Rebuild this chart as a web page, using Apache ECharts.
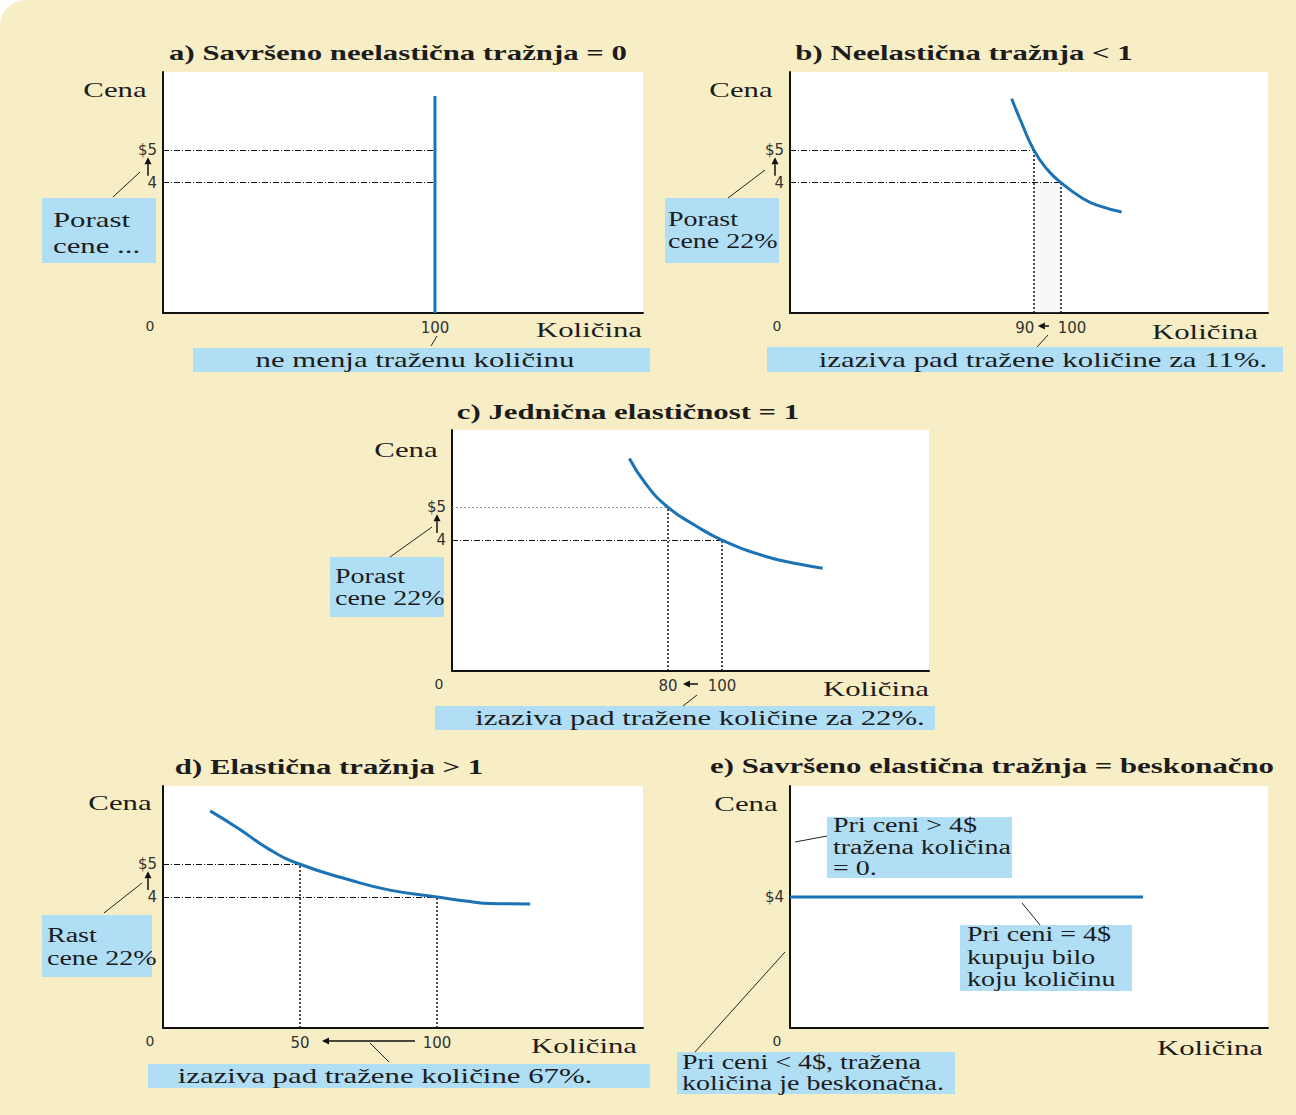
<!DOCTYPE html>
<html>
<head>
<meta charset="utf-8">
<script src="https://cdn.jsdelivr.net/npm/echarts@6/dist/echarts.min.js"></script>
<style>
html,body{margin:0;padding:0;background:#fff;}
#c{width:1296px;height:1115px;background:#f8eec5;border-top-left-radius:26px;}
</style>
</head>
<body>
<div id="c"></div>
<script>
// ---------- data ----------
const panelTitles = [
  'a) Savršeno neelastična tražnja = 0',
  'b) Neelastična tražnja < 1',
  'c) Jednična elastičnost = 1',
  'd) Elastična tražnja > 1',
  'e) Savršeno elastična tražnja = beskonačno'
];
const yAxisName = 'Cena';
const xAxisName = 'Količina';

// demand lines (quantity, price)
const demandA = [[100, 0], [100, 6.66]];
const demandB = [[81.8, 6.58], [84.9, 5.95], [90, 5], [94.7, 4.43], [100, 4], [108.2, 3.51], [114.4, 3.28], [122.4, 3.10]];
const demandC = [[65.7, 6.49], [72.1, 5.68], [80, 5], [90, 4.45], [100, 4], [116.6, 3.49], [128.9, 3.26], [137.3, 3.14]];
const demandD = [[17.2, 6.63], [27.4, 6.10], [39.1, 5.44], [50, 5], [68.2, 4.52], [82.8, 4.21], [100, 4], [112, 3.86], [119.3, 3.80], [134, 3.79]];
const demandE = [[0, 4], [130, 4]];

// price change 4 -> 5, quantity at each price per panel
const priceLow = 4, priceHigh = 5;
const qtyHighPrice = [100, 90, 80, 50];
const qtyLowPrice  = [100, 100, 100, 100];

// tick labels
const xTickLabels = [
  [[100, '100']],
  [[90, '{l|90}'], [100, '{r|100}']],
  [[80, '80'], [100, '100']],
  [[50, '50'], [100, '100']],
  []
];
const yTickLabels = [
  [[5, '$5'], [4, '4']],
  [[5, '$5'], [4, '4']],
  [[5, '$5'], [4, '4']],
  [[5, '$5'], [4, '4']],
  [[4, '$4']]
];

// annotation texts
const leftBoxTexts = ['Porast\ncene ...', 'Porast\ncene 22%', 'Porast\ncene 22%', 'Rast\ncene 22%'];
const bottomBoxTexts = [
  'ne menja traženu količinu',
  'izaziva pad tražene količine za 11%.',
  'izaziva pad tražene količine za 22%.',
  'izaziva pad tražene količine 67%.'
];
const eBoxTexts = [
  'Pri ceni > 4$\ntražena količina\n= 0.',
  'Pri ceni = 4$\nkupuju bilo\nkoju količinu',
  'Pri ceni < 4$, tražena\nkoličina je beskonačna.'
];

// ---------- layout ----------
const grids = [
  {left: 163, top: 72, width: 480, height: 241},
  {left: 790, top: 72, width: 478, height: 241},
  {left: 452, top: 430, width: 477, height: 241},
  {left: 163, top: 786, width: 480, height: 242},
  {left: 790, top: 786, width: 478, height: 242}
];
const xMax = [176.5, 176.4, 176.7, 175.2, 176];
const yMax = [7.4, 7.4, 7.36, 7.39, 7.39];

const BLUE = '#1b72b5';
const BOX = '#b0def5';
const INK = '#1c1c1c';
const tickFont = {fontFamily: 'DejaVu Sans', fontSize: 15, color: '#333'};

function near(a, b) { return Math.abs(a - b) < 1e-6; }
function makeFormatter(list) {
  return function (v) {
    for (const [val, txt] of list) if (near(v, val)) return txt;
    return '';
  };
}

const xAxes = grids.map((g, i) => ({
  type: 'value', gridIndex: i, min: 0, max: xMax[i], interval: 10,
  axisLine: {show: true, onZero: false, lineStyle: {color: '#111', width: 2}},
  axisTick: {show: false}, splitLine: {show: false},
  axisLabel: Object.assign({
    margin: 7, showMinLabel: true, showMaxLabel: true, hideOverlap: false,
    formatter: makeFormatter(xTickLabels[i]),
    rich: {
      l: Object.assign({padding: [0, 18, 0, 0]}, tickFont),
      r: Object.assign({padding: [0, 0, 0, 22]}, tickFont)
    }
  }, tickFont)
}));
const yAxes = grids.map((g, i) => ({
  type: 'value', gridIndex: i, min: 0, max: yMax[i], interval: 1,
  axisLine: {show: true, onZero: false, lineStyle: {color: '#111', width: 2}},
  axisTick: {show: false}, splitLine: {show: false},
  axisLabel: Object.assign({
    margin: 6, showMinLabel: true, showMaxLabel: true, hideOverlap: false,
    formatter: makeFormatter(yTickLabels[i])
  }, tickFont)
}));

const dashDot = {type: [6, 2, 1, 2], color: '#111', width: 1};
const dotted = {type: [2, 2], color: '#111', width: 1.5};
const lightDot = {type: [2, 2], color: '#999', width: 1};

function refLines(i) {
  const qh = qtyHighPrice[i], ql = qtyLowPrice[i];
  const data = [
    [{coord: [0, priceHigh], lineStyle: i === 2 ? lightDot : dashDot}, {coord: [qh, priceHigh]}],
    [{coord: [0, priceLow], lineStyle: dashDot}, {coord: [ql, priceLow]}]
  ];
  if (i > 0) {
    data.push([{coord: [qh, 0], lineStyle: dotted}, {coord: [qh, priceHigh]}]);
    data.push([{coord: [ql, 0], lineStyle: dotted}, {coord: [ql, priceLow]}]);
  }
  return {symbol: ['none', 'none'], silent: true, label: {show: false}, animation: false, data: data};
}

const demand = [demandA, demandB, demandC, demandD, demandE];
const series = demand.map((d, i) => {
  const s = {
    type: 'line', xAxisIndex: i, yAxisIndex: i, data: d, symbol: 'none',
    smooth: i >= 1 && i <= 3 ? true : false,
    lineStyle: {color: BLUE, width: 3}, z: 5, silent: true
  };
  if (i < 4) s.markLine = refLines(i);
  if (i === 1) {
    s.markArea = {silent: true, itemStyle: {color: 'rgba(200,200,200,0.15)'},
      data: [[{coord: [qtyHighPrice[1], 0]}, {coord: [qtyLowPrice[1], priceLow]}]]};
  }
  return s;
});

const chart = echarts.init(document.getElementById('c'), null, {renderer: 'svg'});
chart.setOption({
  animation: false,
  backgroundColor: 'transparent',
  grid: grids.map(g => Object.assign({show: true, backgroundColor: '#fff', borderWidth: 0,
    containLabel: false, outerBoundsMode: 'none'}, g)),
  xAxis: xAxes,
  yAxis: yAxes,
  series: series
});

// ---------- annotations ----------
function px(i, x, y) { return chart.convertToPixel({gridIndex: i}, [x, y]); }

function T(text, x, y, o) {
  o = o || {};
  const align = o.align || 'center';
  return {
    type: 'text', x: x, y: y, scaleX: o.sx || 1.4, z: 102,
    style: {
      text: text, x: 0, y: 0, fill: o.fill || INK,
      fontFamily: o.family || 'Liberation Serif', fontSize: o.size || 22,
      fontWeight: o.bold ? 'bold' : 'normal',
      textAlign: align, align: align, textVerticalAlign: 'middle', verticalAlign: 'middle',
      lineHeight: o.lh || 24
    }
  };
}
function R(x, y, w, h) {
  return {type: 'rect', z: 100, shape: {x: x, y: y, width: w, height: h}, style: {fill: BOX}};
}
function L(x1, y1, x2, y2) {
  return {type: 'line', z: 101, shape: {x1: x1, y1: y1, x2: x2, y2: y2}, style: {stroke: '#222', lineWidth: 1}};
}
function A(x1, y1, x2, y2) {
  const dx = x2 - x1, dy = y2 - y1, len = Math.hypot(dx, dy);
  const ux = dx / len, uy = dy / len, hl = 7, hw = 3.5;
  const bx = x2 - ux * hl, by = y2 - uy * hl, qx = -uy, qy = ux;
  return [
    {type: 'line', z: 101, shape: {x1: x1, y1: y1, x2: bx, y2: by}, style: {stroke: '#111', lineWidth: 1.5}},
    {type: 'polygon', z: 101, shape: {points: [[x2, y2], [bx + qx * hw, by + qy * hw], [bx - qx * hw, by - qy * hw]]}, style: {fill: '#111'}}
  ];
}

const els = [];
// titles
const titlePos = [[398, 53], [964, 53], [628, 412], [329, 767], [992, 766]];
panelTitles.forEach((t, i) => els.push(T(t, titlePos[i][0], titlePos[i][1], {bold: true})));
// axis names
const cenaPos = [[115, 90], [741, 90], [406, 450], [120, 803], [746, 804]];
const kolPos = [[589, 330], [1205, 332], [876, 689], [584, 1046], [1210, 1048]];
cenaPos.forEach(p => els.push(T(yAxisName, p[0], p[1])));
kolPos.forEach(p => els.push(T(xAxisName, p[0], p[1])));
// origin "0"
for (let i = 0; i < 5; i++) {
  const o = px(i, 0, 0);
  els.push(T('0', o[0] - 13, o[1] + 13, {family: 'DejaVu Sans', size: 14, fill: '#333', sx: 1}));
}
// up arrows on price axis (4 -> 5)
for (let i = 0; i < 4; i++) {
  const p4 = px(i, 0, priceLow), p5 = px(i, 0, priceHigh);
  els.push(...A(p4[0] - 15, p4[1] - 7, p4[0] - 15, p5[1] + 7));
}
// quantity arrows (100 -> lower quantity)
{
  const b90 = px(1, qtyHighPrice[1], 0), b100 = px(1, qtyLowPrice[1], 0);
  els.push(...A(b100[0] - 12, b100[1] + 13, b90[0] + 4, b90[1] + 13));
  const c80 = px(2, qtyHighPrice[2], 0), c100 = px(2, qtyLowPrice[2], 0);
  els.push(...A(c100[0] - 24, c100[1] + 13, c80[0] + 15, c80[1] + 13));
  const d50 = px(3, qtyHighPrice[3], 0), d100 = px(3, qtyLowPrice[3], 0);
  els.push(...A(d100[0] - 22, d100[1] + 13, d50[0] + 22, d50[1] + 13));
}
// left boxes: rect x,y,w,h, text x, text mid y, line height, font size
const leftBoxes = [[42, 198, 114, 65, 53, 233, 26, 22], [665, 198, 114, 65, 668, 230, 22, 20], [330, 557, 114, 60, 335, 587, 22, 20], [42, 915, 110, 62, 47, 947, 23, 20]];
leftBoxes.forEach((b, i) => {
  els.push(R(b[0], b[1], b[2], b[3]));
  els.push(T(leftBoxTexts[i], b[4], b[5], {align: 'left', lh: b[6], size: b[7]}));
});
// bottom boxes
const bottomBoxes = [[193, 348, 457, 24, 415, 360], [767, 347, 516, 25, 1043, 360], [435, 706, 500, 24, 700, 718], [148, 1064, 502, 24, 385, 1076]];
bottomBoxes.forEach((b, i) => {
  els.push(R(b[0], b[1], b[2], b[3]));
  els.push(T(bottomBoxTexts[i], b[4], b[5]));
});
// panel e boxes
const eBoxes = [[827, 817, 185, 61, 833, 847, 21.5], [960, 925, 172, 66, 967, 957, 22.5], [677, 1052, 278, 42, 682, 1073, 21]];
eBoxes.forEach((b, i) => {
  els.push(R(b[0], b[1], b[2], b[3]));
  els.push(T(eBoxTexts[i], b[4], b[5], {align: 'left', size: 20, lh: b[6]}));
});
// leader lines
[[113, 197, 140, 172], [431, 346, 437, 336], [728, 198, 765, 170], [1037, 347, 1048, 335],
 [390, 557, 432, 527], [683, 706, 697, 695], [104, 913, 142, 883], [370, 1043, 389, 1062],
 [795, 842, 827, 836], [1022, 903, 1040, 925], [785, 952, 695, 1052]]
  .forEach(l => els.push(L(l[0], l[1], l[2], l[3])));

chart.setOption({graphic: {elements: els}});
</script>
</body>
</html>
